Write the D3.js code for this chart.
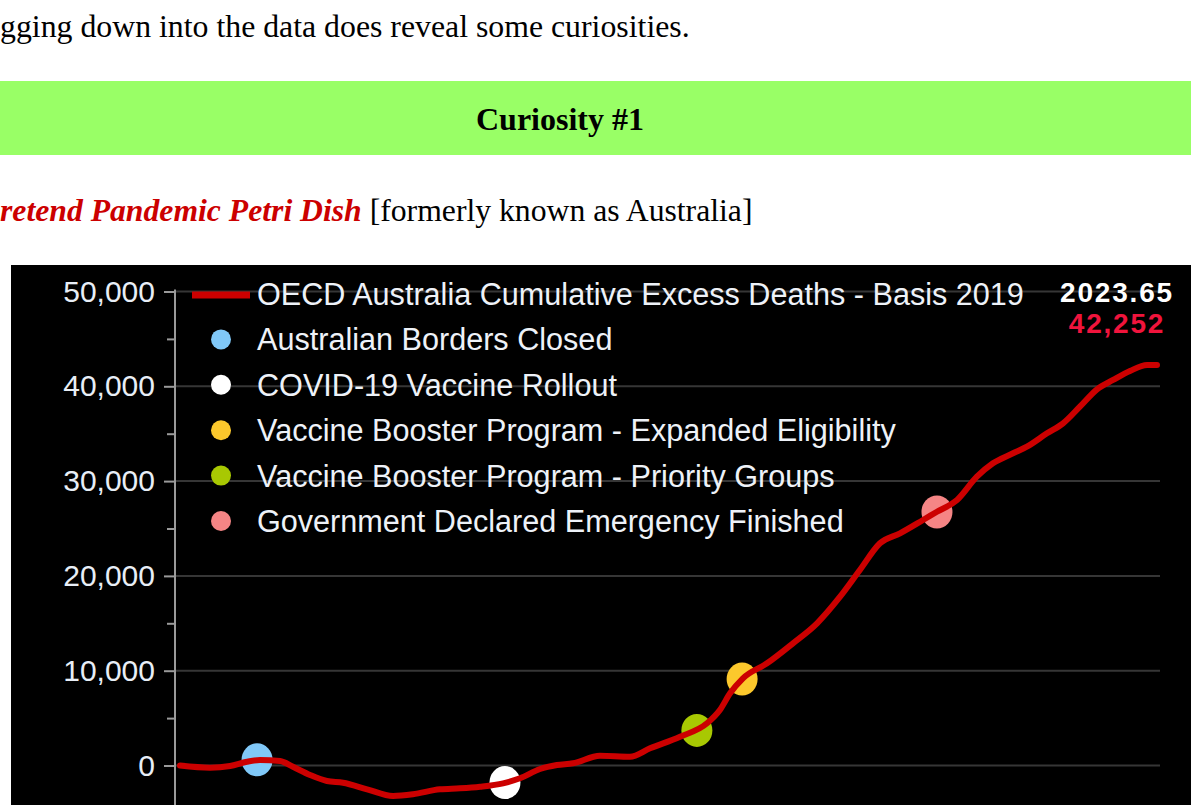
<!DOCTYPE html>
<html><head><meta charset="utf-8">
<script src="https://cdn.jsdelivr.net/npm/d3@7"></script>
<style>html,body{margin:0;padding:0;background:#fff;overflow:hidden}</style>
</head><body>
<svg id="c" width="1191" height="805"></svg>
<script>
// ---- data ----
const years = [2020.000,2020.112,2020.187,2020.250,2020.299,2020.374,2020.422,2020.486,2020.549,2020.609,
  2020.699,2020.796,2020.870,2020.971,2021.046,2021.121,2021.207,2021.270,2021.345,2021.408,
  2021.468,2021.569,2021.681,2021.756,2021.868,2021.969,2022.017,2022.055,2022.103,2022.193,
  2022.290,2022.380,2022.466,2022.540,2022.615,2022.690,2022.776,2022.828,2022.903,2022.977,
  2023.037,2023.112,2023.164,2023.239,2023.299,2023.362,2023.426,2023.486,2023.549,2023.613,2023.650];
const excessDeaths = [0,-230,-50,400,580,475,-130,-1000,-1635,-1815,
  -2510,-3215,-3040,-2510,-2405,-2235,-1880,-1350,-370,50,
  230,1035,930,1815,3040,4450,5855,7615,9200,10780,
  12890,15000,17805,20620,23440,24495,25900,26770,28005,30465,
  31880,32930,33630,35040,36095,37850,39685,40665,41615,42245,42252];
const yTickValues = [0,10000,20000,30000,40000,50000];
const yMinorTicks = [5000,15000,25000,35000,45000];
const seriesName = "OECD Australia Cumulative Excess Deaths - Basis 2019";
const eventNames = ["Australian Borders Closed","COVID-19 Vaccine Rollout",
  "Vaccine Booster Program - Expanded Eligibility","Vaccine Booster Program - Priority Groups",
  "Government Declared Emergency Finished"];
const eventYears = [2020.288, 2021.214, 2022.100, 2021.931, 2022.828];
const eventValues = [600, -1800, 9120, 3700, 26740];
const eventColors = ["#80c8f8","#ffffff","#fcc82c","#a8c802","#f58585"];
const lastYearLabel = "2023.65";
const lastValueLabel = "42,252";

// ---- page ----
const svg = d3.select("#c");
const serif = "'Liberation Serif','Times New Roman',serif";
const sans = "'Liberation Sans',Arial,sans-serif";

svg.append("text").attr("x",0).attr("y",37).attr("font-family",serif).attr("font-size",31.8)
  .attr("fill","#000").text("gging down into the data does reveal some curiosities.");
svg.append("rect").attr("x",0).attr("y",81).attr("width",1191).attr("height",74).attr("fill","#99ff66");
svg.append("text").attr("x",560).attr("y",130).attr("text-anchor","middle").attr("font-family",serif)
  .attr("font-size",32).attr("font-weight","bold").attr("fill","#000").text("Curiosity #1");
const sub = svg.append("text").attr("x",0).attr("y",221).attr("font-family",serif).attr("font-size",31.7).attr("fill","#000");
sub.append("tspan").attr("fill","#cc0000").attr("font-weight","bold").attr("font-style","italic").text("retend Pandemic Petri Dish");
sub.append("tspan").text(" [formerly known as Australia]");

// ---- chart ----
svg.append("rect").attr("x",11).attr("y",265).attr("width",1180).attr("height",540).attr("fill","#000");

const x = d3.scaleLinear().domain([2020, 2023.65]).range([180, 1157]);
const y = d3.scaleLinear().domain([0, 50000]).range([765.5, 291.5]);

// gridlines
svg.append("g").selectAll("line").data(yTickValues).join("line")
  .attr("x1",175).attr("x2",1160).attr("y1",d=>y(d)).attr("y2",d=>y(d))
  .attr("stroke","#363636").attr("stroke-width",2);

// axis
const axisG = svg.append("g").attr("transform","translate(175,0)");
axisG.call(d3.axisLeft(y).tickValues(yTickValues).tickSize(11).tickSizeOuter(0).tickPadding(9).tickFormat(d3.format(",")));
axisG.select(".domain").remove();
axisG.selectAll(".tick line").attr("stroke","#9a9a9a").attr("stroke-width",2);
axisG.selectAll(".tick text").attr("fill","#e8eef6").attr("font-family",sans).attr("font-size",30);
const minorG = svg.append("g").attr("transform","translate(175,0)");
minorG.call(d3.axisLeft(y).tickValues(yMinorTicks).tickSize(8).tickFormat(""));
minorG.select(".domain").remove();
minorG.selectAll(".tick line").attr("stroke","#9a9a9a").attr("stroke-width",2);
svg.append("line").attr("x1",175).attr("x2",175).attr("y1",y(50000)-2).attr("y2",805)
  .attr("stroke","#9a9a9a").attr("stroke-width",2);

// event markers (under the line)
const events = eventNames.map((n,i)=>({name:n, t:eventYears[i], v:eventValues[i], c:eventColors[i]}));
svg.append("g").selectAll("ellipse").data(events).join("ellipse")
  .attr("cx",d=>x(d.t)).attr("cy",d=>y(d.v)).attr("rx",15.5).attr("ry",16.5).attr("fill",d=>d.c);

// line
const pts = years.map((t,i)=>[t, excessDeaths[i]]);
svg.append("path").datum(pts)
  .attr("d", d3.line().x(d=>x(d[0])).y(d=>y(d[1])).curve(d3.curveMonotoneX))
  .attr("fill","none").attr("stroke","#cc0000").attr("stroke-width",6)
  .attr("stroke-linejoin","round").attr("stroke-linecap","round");

// legend
const rowY = i => 294 + i*45.4;
const leg = svg.append("g");
leg.append("line").attr("x1",192).attr("x2",250).attr("y1",rowY(0)+1).attr("y2",rowY(0)+1)
  .attr("stroke","#cc0000").attr("stroke-width",7);
leg.append("text").attr("x",257).attr("y",rowY(0)).attr("dy","0.36em").attr("font-family",sans)
  .attr("font-size",30.6).attr("fill","#eef2f8").text(seriesName);
events.forEach((e,i)=>{
  leg.append("circle").attr("cx",221).attr("cy",rowY(i+1)).attr("r",10).attr("fill",e.c);
  leg.append("text").attr("x",257).attr("y",rowY(i+1)).attr("dy","0.36em").attr("font-family",sans)
    .attr("font-size",30.6).attr("fill","#eef2f8").text(e.name);
});

// last value annotation
svg.append("text").attr("x",1117).attr("y",302).attr("text-anchor","middle").attr("font-family",sans)
  .attr("font-weight","bold").attr("font-size",28).attr("letter-spacing",1.8).attr("fill","#ffffff").text(lastYearLabel);
svg.append("text").attr("x",1117).attr("y",333).attr("text-anchor","middle").attr("font-family",sans)
  .attr("font-weight","bold").attr("font-size",28).attr("letter-spacing",1.8).attr("fill","#f0143c").text(lastValueLabel);
</script>
</body></html>
